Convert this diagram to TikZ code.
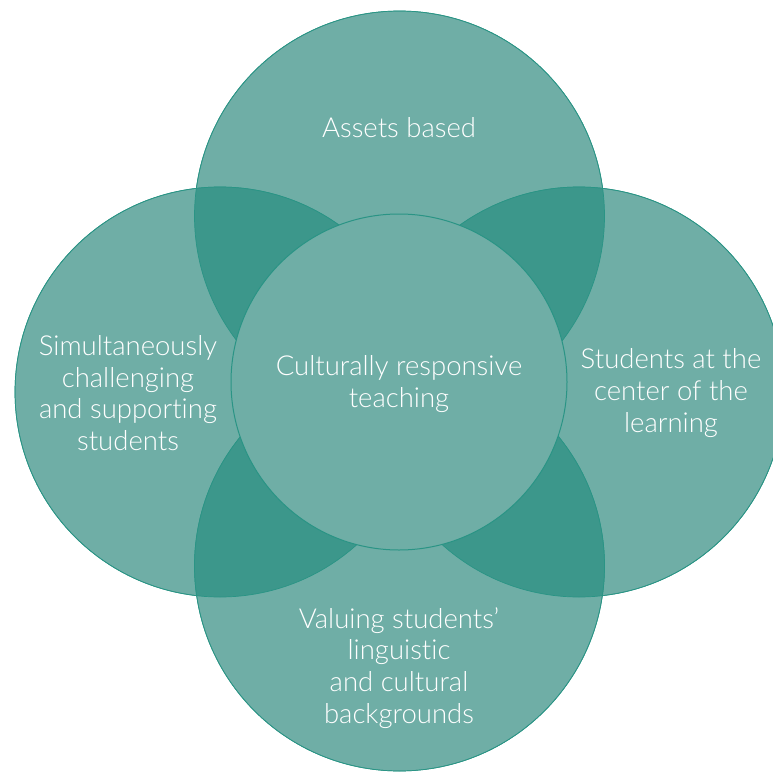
\documentclass[tikz,border=0pt]{standalone}
\usepackage{fontspec}
\setmainfont{Lato Light}[Ligatures={NoCommon}]
\definecolor{tealLight}{HTML}{6FAEA6}
\definecolor{tealDark}{HTML}{3C978B}
\definecolor{tealLine}{HTML}{2A9485}
\tikzset{
  petal/.style={circle, minimum size=410pt, inner sep=0pt, fill=tealLight, draw=tealLine, line width=0.7pt},
  hub/.style={circle, minimum size=336pt, inner sep=0pt, fill=tealLight, draw=tealLine, line width=1pt},
  txt/.style={text=white, align=center, font=\fontsize{27.5}{31.7}\selectfont}
}
\begin{document}
\begin{tikzpicture}[x=1pt, y=-1pt]
\useasboundingbox (0,0) rectangle (772,779);

% outer circles
\node[petal] (assets) at (399.5,216) {};
\node[petal] (simul) at (220,392) {};
\node[petal] (center) at (579,392) {};
\node[petal] (valuing) at (399.5,566) {};

% overlaps of neighbouring circles
\foreach \a/\b in {assets/simul, assets/center, valuing/simul, valuing/center} {
  \begin{scope}
    \clip (\a.center) circle (205pt);
    \fill[tealDark] (\b.center) circle (205pt);
  \end{scope}
}
\foreach \c in {assets, simul, center, valuing}
  \draw[tealLine, line width=0.7pt] (\c.center) circle (205pt);

% middle circle
\node[hub] (crt) at (399,382) {};

% labels
\node[txt] (assetsText) at (399,128) {Assets based};
\node[txt] (crtText) at (399,384) {Culturally responsive\\teaching};
\node[txt] (simulText) at (128,393) {Simultaneously\\challenging\\and supporting\\students};
\node[txt] (centerText) at (671,393) {Students at the\\center of the\\learning};
\node[txt] (valuingText) at (399,668) {Valuing students’\\linguistic\\and cultural\\backgrounds};
\end{tikzpicture}
\end{document}
